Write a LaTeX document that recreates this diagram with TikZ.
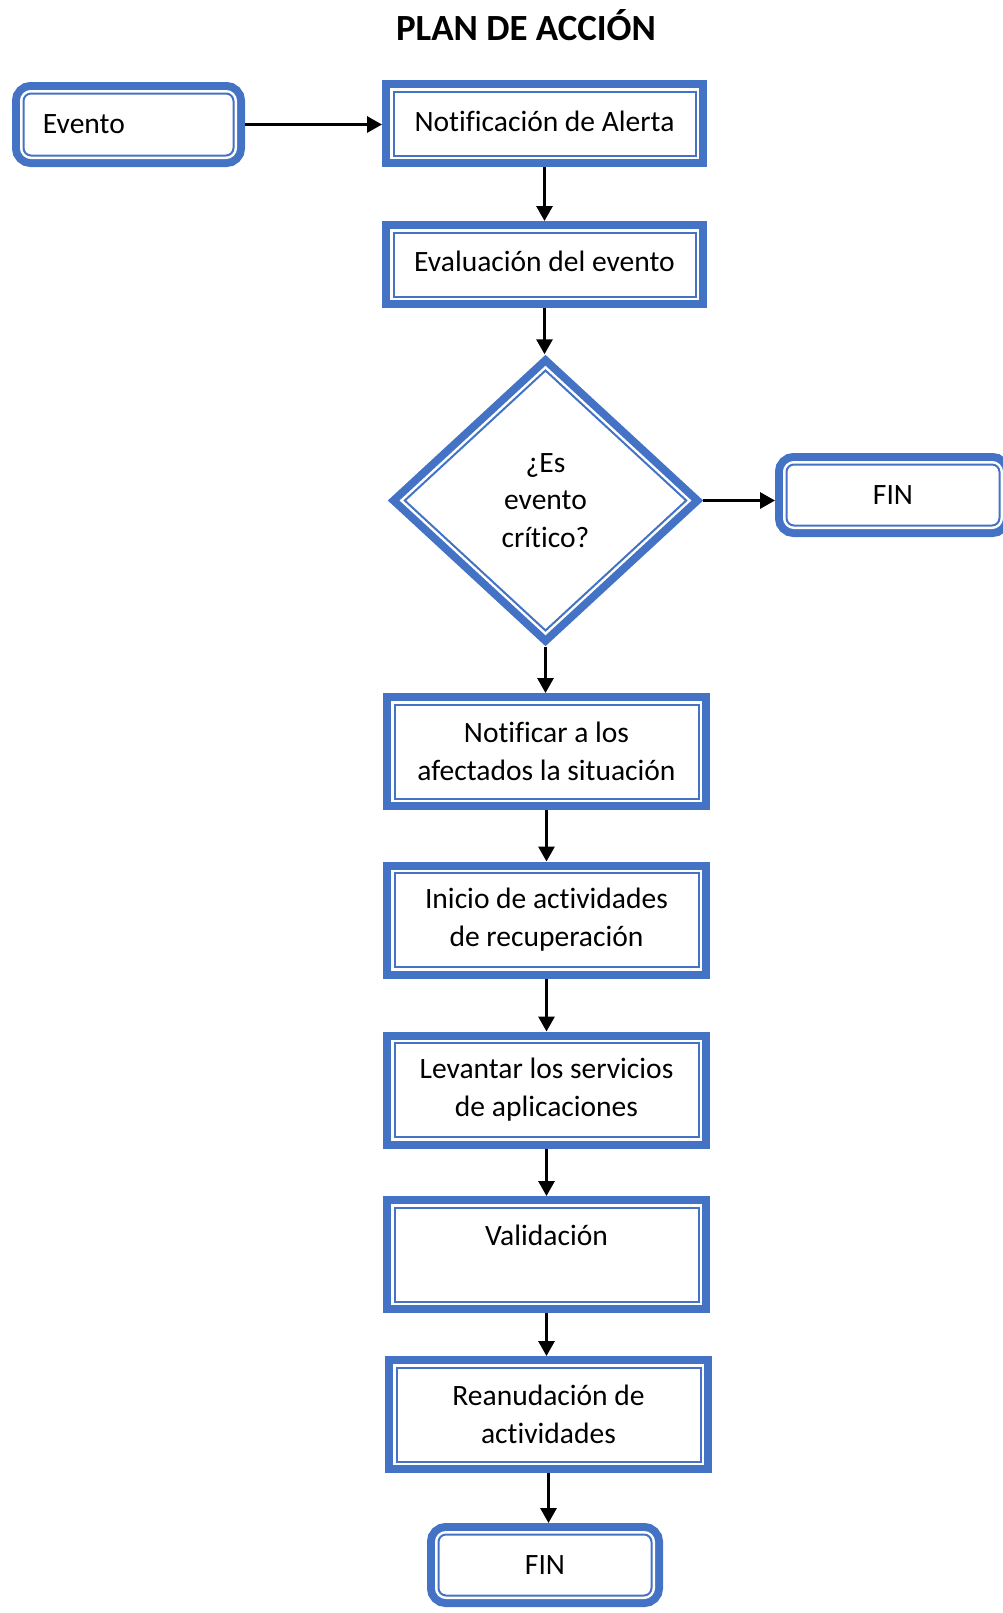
\documentclass[tikz,border=0pt]{standalone}
\usepackage{fontspec}
\setmainfont{Carlito}[Ligatures=NoCommon]
\usetikzlibrary{shapes.geometric,arrows.meta,positioning,calc}
\definecolor{azulword}{RGB}{68,114,196}

\begin{document}
\begin{tikzpicture}[
    caja/.style={draw=azulword,fill=white,line width=0.04cm,inner sep=0pt,outer sep=0.23cm,
        preaction={draw=azulword,line width=0.46cm},
        preaction={draw=white,line width=0.14cm},
        align=center,font=\fontsize{16.8}{21.5}\selectfont},
    cajaredonda/.style={caja,rounded corners=0.15cm},
    decision/.style={caja,diamond},
    flecha/.style={-{Triangle[length=0.3cm,width=0.32cm]},line width=0.06cm},
]

\useasboundingbox (0,0) rectangle (20.06,-32.26);

% Title
\node[font=\fontsize{21}{25}\selectfont\bfseries] (titulo) at (10.52,-0.50) {PLAN DE ACCIÓN};

% Start
\node[cajaredonda,minimum width=4.2cm,minimum height=1.24cm,text width=3.42cm,align=left,inner xsep=0.39cm] (evento) at (2.57,-2.49) {Evento};

% Main flow
\node[caja,minimum width=6.04cm,minimum height=1.28cm] (alerta) at (10.89,-2.47) {\raisebox{0.1cm}{Notificación de Alerta}};
\node[caja,minimum width=6.04cm,minimum height=1.28cm] (evaluacion) at (10.89,-5.29) {\raisebox{0.12cm}{Evaluación del evento}};
\node[decision,minimum width=5.82cm,minimum height=5.39cm] (critico) at (10.91,-10.01) {¿Es\\evento\\crítico?};
\node[cajaredonda,minimum width=4.26cm,minimum height=1.22cm] (fin1) at (17.86,-9.9) {\raisebox{-0.04cm}{FIN}};

\node[caja,minimum width=6.08cm,minimum height=1.88cm] (notificar) at (10.93,-15.03) {Notificar a los\\afectados la situación};
\node[caja,minimum width=6.08cm,minimum height=1.88cm] (inicio) at (10.93,-18.40) {Inicio de actividades\\de recuperación};
\node[caja,minimum width=6.08cm,minimum height=1.88cm] (levantar) at (10.93,-21.80) {Levantar los servicios\\de aplicaciones};
\node[caja,minimum width=6.08cm,minimum height=1.88cm] (validacion) at (10.93,-25.09) {Validación\\[-0.2cm]\strut};
\node[caja,minimum width=6.08cm,minimum height=1.88cm] (reanudacion) at (10.97,-28.29) {Reanudación de\\actividades};
\node[cajaredonda,minimum width=4.26cm,minimum height=1.22cm] (fin2) at (10.90,-31.30) {\raisebox{-0.04cm}{FIN}};

% Connections
\draw[flecha] (evento.east) -- (evento.east -| alerta.west);
\draw[flecha] (alerta.south) -- (evaluacion.north);
\draw[flecha] (evaluacion.south) -- (evaluacion.south |- critico.north);
\draw[flecha] (critico.east) -- (critico.east -| fin1.west);
\draw[flecha] (critico.south) -- (critico.south |- notificar.north);
\draw[flecha] (notificar.south) -- (inicio.north);
\draw[flecha] (inicio.south) -- (levantar.north);
\draw[flecha] (levantar.south) -- (validacion.north);
\draw[flecha] (validacion.south) -- (validacion.south |- reanudacion.north);
\draw[flecha] (reanudacion.south) -- (reanudacion.south |- fin2.north);

\end{tikzpicture}
\end{document}
